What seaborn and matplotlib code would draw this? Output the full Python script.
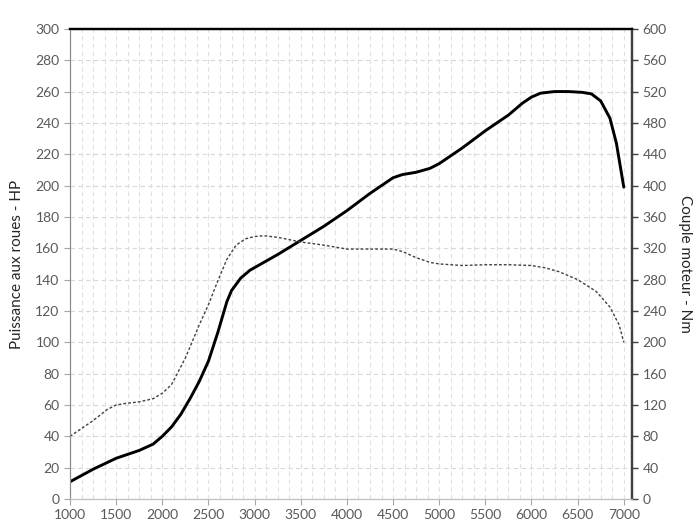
import pandas as pd
import seaborn as sns
import matplotlib.pyplot as plt
from matplotlib.ticker import MultipleLocator

# power at the wheels (HP)
rpm_power = [1000, 1250, 1500, 1750, 1900, 2000, 2100, 2200, 2300, 2400, 2500, 2600,
             2700, 2750, 2850, 2950, 3100, 3250, 3500, 3750, 4000, 4250, 4400, 4500,
             4600, 4750, 4900, 5000, 5250, 5500, 5750, 5900, 6000, 6100, 6250, 6400,
             6550, 6650, 6750, 6850, 6920, 7000]
power_hp = [11, 19, 26, 31, 35, 40, 46, 54, 64, 75, 88, 106,
            126, 133, 141, 146, 151, 156, 165, 174, 184, 195, 201, 205,
            207, 208.5, 211, 214, 224, 235, 245, 252.5, 256.5, 259, 260, 260,
            259.5, 258.5, 254, 243, 227, 199]

# engine torque (Nm)
rpm_torque = [1000, 1250, 1400, 1500, 1600, 1750, 1900, 2000, 2100, 2250, 2400, 2500,
              2600, 2700, 2800, 2900, 3000, 3100, 3250, 3500, 3750, 4000, 4250, 4500,
              4600, 4750, 4900, 5000, 5250, 5500, 5750, 6000, 6150, 6300, 6500, 6700,
              6850, 6950, 7000]
torque_nm = [80, 100, 114, 120, 122, 124, 128, 135, 146, 180, 222, 248,
             278, 306, 324, 332, 335, 336, 334, 328, 324, 319, 319, 319,
             316, 308, 302, 300, 298, 299, 299, 298, 295, 290, 280, 265,
             245, 222, 200]

df_p = pd.DataFrame({'rpm': rpm_power, 'hp': power_hp})
df_t = pd.DataFrame({'rpm': rpm_torque, 'nm': torque_nm})

sns.set_style("white")
plt.rcParams['font.family'] = ['Lato', 'DejaVu Sans']

fig = plt.figure(figsize=(7, 5.25), dpi=100)
ax = fig.add_axes([0.1, 0.0495, 0.803, 0.8955])
ax2 = ax.twinx()

sns.lineplot(x='rpm', y='hp', data=df_p, ax=ax, color='black', linewidth=2.1)
sns.lineplot(x='rpm', y='nm', data=df_t, ax=ax2, color='#404040', linewidth=1.0,
             linestyle=(0, (2, 1.5)))

ax.set_xlim(1000, 7090)
ax.set_ylim(0, 300)
ax2.set_ylim(0, 600)
ax.xaxis.set_major_locator(MultipleLocator(500))
ax.xaxis.set_minor_locator(MultipleLocator(125))
ax.yaxis.set_major_locator(MultipleLocator(20))
ax2.yaxis.set_major_locator(MultipleLocator(40))

ax.grid(True, which='both', axis='x', color='#e0e0e0', linestyle=(0, (4, 3)), linewidth=0.8)
ax.grid(True, which='major', axis='y', color='#d9d9d9', linestyle=(0, (4, 3)), linewidth=0.8)
ax2.grid(False)

ax.set_xlabel('')
ax.set_ylabel('Puissance aux roues - HP', fontsize=11, color='#262626', labelpad=8)
ax2.set_ylabel('Couple moteur - Nm', fontsize=11, color='#262626', rotation=270, labelpad=18)

ax.tick_params(axis='both', which='major', labelsize=10, labelcolor='#595959',
               color='#a6a6a6', length=4, width=0.8, direction='out', left=True, bottom=True)
ax.tick_params(axis='x', which='minor', length=0)
ax2.tick_params(axis='y', labelsize=10, labelcolor='#595959', color='#404040',
                length=4, width=1, direction='out', right=True)

for a in (ax, ax2):
    a.spines['top'].set_color('black')
    a.spines['top'].set_linewidth(1.6)
    a.spines['bottom'].set_color('#bfbfbf')
    a.spines['left'].set_color('#8c8c8c')
    a.spines['right'].set_color('#404040')
    a.spines['right'].set_linewidth(1.6)

plt.savefig('out.png', dpi=100)
